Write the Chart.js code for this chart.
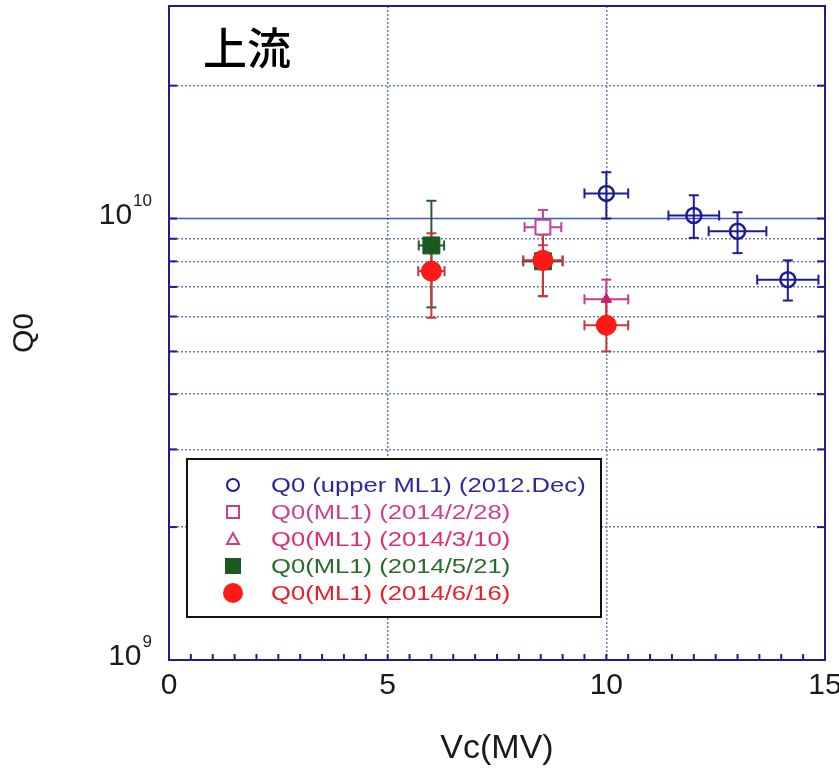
<!DOCTYPE html>
<html>
<head>
<meta charset="utf-8">
<script src="https://cdn.jsdelivr.net/npm/chart.js@4/dist/chart.umd.min.js"></script>
<style>
  html, body { margin: 0; padding: 0; background: #fff; }
  #wrap { width: 839px; height: 774px; position: relative; }
</style>
</head>
<body>
<div id="wrap"><canvas id="q0chart"></canvas></div>
<script>
// series labels (legend)
var seriesNames = ['Q0 (upper ML1) (2012.Dec)', 'Q0(ML1) (2014/2/28)', 'Q0(ML1) (2014/3/10)', 'Q0(ML1) (2014/5/21)', 'Q0(ML1) (2014/6/16)'];

// 2012.Dec upper ML1
var dec2012Vc    = [10, 12, 13, 14.15];
var dec2012VcErr = [0.5, 0.58, 0.66, 0.7];
var dec2012Q0    = [1.14e10, 1.016e10, 0.936e10, 0.727e10];
var dec2012Q0Lo  = [1.0e10, 0.904e10, 0.835e10, 0.652e10];
var dec2012Q0Hi  = [1.273e10, 1.129e10, 1.033e10, 0.804e10];

// 2014/2/28
var feb28Vc    = [8.55];
var feb28VcErr = [0.42];
var feb28Q0    = [0.956e10];
var feb28Q0Lo  = [0.87e10];
var feb28Q0Hi  = [1.046e10];

// 2014/3/10
var mar10Vc    = [10];
var mar10VcErr = [0.5];
var mar10Q0    = [0.656e10];
var mar10Q0Lo  = [0.59e10];
var mar10Q0Hi  = [0.727e10];

// 2014/5/21
var may21Vc    = [6, 8.55];
var may21VcErr = [0.29, 0.45];
var may21Q0    = [0.869e10, 0.80e10];
var may21Q0Lo  = [0.629e10, 0.667e10];
var may21Q0Hi  = [1.097e10, 0.93e10];

// 2014/6/16
var jun16Vc    = [6, 8.55, 10];
var jun16VcErr = [0.3, 0.45, 0.5];
var jun16Q0    = [0.76e10, 0.804e10, 0.573e10];
var jun16Q0Lo  = [0.596e10, 0.667e10, 0.50e10];
var jun16Q0Hi  = [0.926e10, 0.92e10, 0.65e10];

// axes
var xTickValues = [0, 5, 10, 15];
var xMinorStep = 0.5;
var yGridValues = [1e9, 2e9, 3e9, 4e9, 5e9, 6e9, 7e9, 8e9, 9e9, 1e10, 2e10];
var yLabelValues = [1e9, 1e10];
var yLabelExp = ['9', '10'];
var solidLineValue = 1e10;

var FONT = '"Liberation Sans", Arial, sans-serif';
var NAVY = '#1c1c96';
var gridColor = 'rgba(80,100,180,0.85)';

function points(xs, ys) {
    var out = [];
    for (var i = 0; i < xs.length; i++) out.push({x: xs[i], y: ys[i]});
    return out;
}

function line(ctx, x0, y0, x1, y1) {
    ctx.beginPath();
    ctx.moveTo(x0, y0);
    ctx.lineTo(x1, y1);
    ctx.stroke();
}

// legend marker look
var legendStyles = [
    {color: '#2a2aa0', marker: 'circle', fill: false, size: 7, mColor: NAVY},
    {color: '#d0408c', marker: 'square', fill: false, size: 7, mColor: '#c0409a'},
    {color: '#e0306a', marker: 'triangle', fill: false, size: 7, mColor: '#c8407a'},
    {color: '#2a6a2a', marker: 'square', fill: true, size: 8, mColor: '#1a5a1e'},
    {color: '#e82028', marker: 'circle', fill: true, size: 10, mColor: '#ff1a1a'}
];

var decorPlugin = {
    id: 'decor',
    beforeDatasetsDraw: function(chart) {
        var ctx = chart.ctx, a = chart.chartArea;
        var x = chart.scales.x, y = chart.scales.y;
        ctx.save();

        // solid 1e10 line
        ctx.strokeStyle = '#3a5ac8';
        ctx.lineWidth = 1.5;
        var py = y.getPixelForValue(solidLineValue);
        line(ctx, a.left, py, a.right, py);

        // tick marks pointing in
        ctx.strokeStyle = NAVY;
        ctx.lineWidth = 2;
        yGridValues.forEach(function(v) {
            var p = y.getPixelForValue(v);
            line(ctx, a.left, p, a.left + 8, p);
            line(ctx, a.right - 8, p, a.right, p);
        });
        for (var v = xMinorStep; v < 15; v += xMinorStep) {
            var px = x.getPixelForValue(v);
            line(ctx, px, a.bottom, px, a.bottom - 6);
        }

        // error bars
        chart.data.datasets.forEach(function(ds, i) {
            var e = ds.errors;
            ctx.strokeStyle = e.color;
            ctx.lineWidth = 2;
            ds.data.forEach(function(p, j) {
                var cx = x.getPixelForValue(p.x), cy = y.getPixelForValue(p.y);
                var xl = x.getPixelForValue(p.x - e.xErr[j]);
                var xr = x.getPixelForValue(p.x + e.xErr[j]);
                var yl = y.getPixelForValue(e.lo[j]);
                var yh = y.getPixelForValue(e.hi[j]);
                line(ctx, xl, cy, xr, cy);
                line(ctx, cx, yl, cx, yh);
                line(ctx, xl, cy - 5, xl, cy + 5);
                line(ctx, xr, cy - 5, xr, cy + 5);
                line(ctx, cx - 5, yl, cx + 5, yl);
                line(ctx, cx - 5, yh, cx + 5, yh);
            });
        });
        ctx.restore();
    },
    afterDraw: function(chart) {
        var ctx = chart.ctx, a = chart.chartArea;
        var y = chart.scales.y;
        ctx.save();

        // plot frame
        ctx.strokeStyle = NAVY;
        ctx.lineWidth = 2;
        ctx.strokeRect(a.left, a.top, a.right - a.left, a.bottom - a.top);

        // y labels 10^n
        ctx.fillStyle = '#1a1a1a';
        ctx.textBaseline = 'alphabetic';
        ctx.textAlign = 'right';
        yLabelValues.forEach(function(v, i) {
            var p = y.getPixelForValue(v);
            ctx.font = '17px ' + FONT;
            var sw = ctx.measureText(yLabelExp[i]).width;
            ctx.fillText(yLabelExp[i], 152, p - 13);
            ctx.font = '30px ' + FONT;
            ctx.fillText('10', 152 - sw - 1, p + 5);
        });

        // title
        ctx.textAlign = 'left';
        ctx.fillStyle = '#000';
        ctx.font = '500 44px "Noto Sans CJK JP", sans-serif';
        ctx.fillText('上流', 203, 65);

        // legend box
        var bx = 187, by = 459, bw = 414, bh = 158;
        ctx.fillStyle = '#fff';
        ctx.fillRect(bx, by, bw, bh);
        ctx.strokeStyle = '#111';
        ctx.lineWidth = 2;
        ctx.strokeRect(bx, by, bw, bh);

        ctx.textBaseline = 'middle';
        seriesNames.forEach(function(name, i) {
            var st = legendStyles[i];
            var ry = 485 + i * 27, mx = 233;
            ctx.strokeStyle = st.mColor;
            ctx.fillStyle = st.mColor;
            ctx.lineWidth = 2;
            ctx.beginPath();
            if (st.marker === 'circle') {
                ctx.arc(mx, ry, st.size - (st.fill ? 0 : 1), 0, Math.PI * 2);
            } else if (st.marker === 'square') {
                var s = st.size - (st.fill ? 0 : 1);
                ctx.rect(mx - s, ry - s, 2 * s, 2 * s);
            } else {
                ctx.moveTo(mx, ry - 6);
                ctx.lineTo(mx + 6, ry + 5);
                ctx.lineTo(mx - 6, ry + 5);
                ctx.closePath();
            }
            if (st.fill) ctx.fill(); else ctx.stroke();

            ctx.save();
            ctx.translate(271, ry + 1);
            ctx.scale(1.22, 1);
            ctx.fillStyle = st.color;
            ctx.font = '21px ' + FONT;
            ctx.fillText(name, 0, 0);
            ctx.restore();
        });
        ctx.restore();
    }
};

var chart = new Chart(document.getElementById('q0chart').getContext('2d'), {
    type: 'scatter',
    data: {
        datasets: [{
            label: seriesNames[0],
            data: points(dec2012Vc, dec2012Q0),
            errors: {xErr: dec2012VcErr, lo: dec2012Q0Lo, hi: dec2012Q0Hi, color: NAVY},
            pointStyle: 'circle',
            pointRadius: 7.5,
            borderColor: NAVY,
            backgroundColor: 'rgba(0,0,0,0)',
            borderWidth: 2.5,
            order: 4
        }, {
            label: seriesNames[1],
            data: points(feb28Vc, feb28Q0),
            errors: {xErr: feb28VcErr, lo: feb28Q0Lo, hi: feb28Q0Hi, color: '#c0409a'},
            pointStyle: 'rect',
            pointRadius: 10.5,
            borderColor: '#c0409a',
            backgroundColor: '#fff',
            borderWidth: 2,
            order: 3
        }, {
            label: seriesNames[2],
            data: points(mar10Vc, mar10Q0),
            errors: {xErr: mar10VcErr, lo: mar10Q0Lo, hi: mar10Q0Hi, color: '#d03a80'},
            pointStyle: 'triangle',
            pointRadius: 6,
            borderColor: '#c82070',
            backgroundColor: '#c82070',
            borderWidth: 1,
            order: 2
        }, {
            label: seriesNames[3],
            data: points(may21Vc, may21Q0),
            errors: {xErr: may21VcErr, lo: may21Q0Lo, hi: may21Q0Hi, color: '#2a5a30'},
            pointStyle: 'rect',
            pointRadius: 12,
            borderColor: '#1a5a1e',
            backgroundColor: '#1a5a1e',
            borderWidth: 1,
            order: 1
        }, {
            label: seriesNames[4],
            data: points(jun16Vc, jun16Q0),
            errors: {xErr: jun16VcErr, lo: jun16Q0Lo, hi: jun16Q0Hi, color: '#c83838'},
            pointStyle: 'circle',
            pointRadius: 10,
            borderColor: '#f01515',
            backgroundColor: '#ff1a1a',
            borderWidth: 1,
            order: 0
        }]
    },
    options: {
        responsive: true,
        maintainAspectRatio: false,
        animation: false,
        layout: {autoPadding: false, padding: {left: 0, right: 14, top: 6, bottom: 0}},
        plugins: {
            legend: {display: false},
            tooltip: {enabled: false}
        },
        scales: {
            x: {
                type: 'linear',
                min: 0,
                max: 15,
                afterBuildTicks: function(s) {
                    s.ticks = xTickValues.map(function(v) { return {value: v}; });
                },
                afterFit: function(s) {
                    s.height = 114;
                    s.paddingLeft = 0;
                    s.paddingRight = 0;
                },
                grid: {color: gridColor, lineWidth: 1.5, drawTicks: false},
                border: {display: false, dash: [2, 2]},
                ticks: {font: {family: FONT, size: 30}, color: '#1a1a1a', padding: 8, maxRotation: 0},
                title: {display: true, text: 'Vc(MV)', font: {family: FONT, size: 34}, color: '#1a1a1a', padding: {top: 0, bottom: 5}}
            },
            y: {
                type: 'logarithmic',
                min: 1e9,
                max: 3.03e10,
                afterBuildTicks: function(s) {
                    s.ticks = yGridValues.map(function(v) { return {value: v}; });
                },
                afterFit: function(s) {
                    s.width = 169;
                    s.paddingTop = 0;
                    s.paddingBottom = 0;
                },
                grid: {
                    color: function(c) {
                        return (c.tick && c.tick.value === solidLineValue) ? 'rgba(0,0,0,0)' : gridColor;
                    },
                    lineWidth: 1.5,
                    drawTicks: false
                },
                border: {display: false, dash: [2, 2]},
                ticks: {display: false},
                title: {display: true, text: 'Q0', font: {family: FONT, size: 30}, color: '#1a1a1a', padding: {top: 7, bottom: 0}}
            }
        }
    },
    plugins: [decorPlugin]
});
</script>
</body>
</html>
